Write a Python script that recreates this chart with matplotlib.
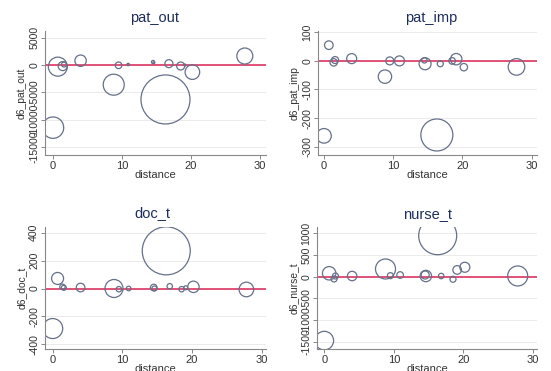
import numpy as np
import matplotlib.pyplot as plt

# distance of each unit (same in all four panels)
distance = [0.0, 0.7, 1.4, 1.6, 4.0, 8.8, 9.5, 10.9, 14.5, 14.6, 16.3, 16.8, 18.5, 19.1, 20.2, 27.8]

# dfbeta-like values and bubble weights per outcome
pat_out = [-11460, -300, -200, 100, 790, -3600, -50, 100, 550, 400, -6300, 250, -180, 0, -1300, 1650]
w_pat_out = [10.7, 9.5, 4.5, 2.5, 5.7, 10.5, 3.3, 1.2, 1.6, 1.0, 24.5, 4.0, 4.0, 1.0, 7.3, 8.0]

pat_imp = [-262, 55, -5, 3, 8, -55, 0, 0, 2, -10, -259, -10, 0, 6, -22, -21]
w_pat_imp = [7.3, 4.3, 3.7, 3.5, 5.0, 6.7, 4.0, 5.0, 2.7, 6.0, 16.0, 3.0, 3.3, 5.7, 3.7, 8.3]

doc_t = [-287, 72, 12, 5, 7, 0, -5, 0, 7, 0, 270, 16, -5, 5, 12, -7]
w_doc_t = [10.0, 6.0, 2.7, 2.5, 4.3, 9.0, 2.7, 2.3, 3.3, 2.5, 24.0, 2.7, 2.7, 2.0, 5.7, 7.3]

nurse_t = [-1475, 78, -53, 15, 15, 177, 23, 38, 38, 15, 945, 15, -60, 155, 217, 16]
w_nurse_t = [9.3, 6.7, 3.0, 3.0, 4.7, 10.0, 3.0, 3.3, 4.0, 5.7, 19.0, 2.7, 3.0, 4.3, 5.0, 10.0]

panels = [
    ("pat_out", pat_out, w_pat_out, [5000, 0, -5000, -10000, -15000]),
    ("pat_imp", pat_imp, w_pat_imp, [100, 0, -100, -200, -300]),
    ("doc_t", doc_t, w_doc_t, [400, 200, 0, -200, -400]),
    ("nurse_t", nurse_t, w_nurse_t, [1000, 500, 0, -500, -1000, -1500]),
]

W, H = 551, 371
# pixel layout: box (l, r, t, b), x-map (px of 0, px of 30), y-map ((px, val), (px, val)), title (x, y)
layout = [
    ((45, 266, 31, 155), (53, 260), ((37.7, 5000), (147, -15000)), (155, 18)),
    ((318, 537, 31, 154.5), (324, 531.7), ((32.3, 100), (146.7, -300)), (431, 18)),
    ((45, 266, 226.7, 348.5), (52.7, 261.7), ((232.7, 400), (344.3, -400)), (152, 213)),
    ((317, 537, 226.7, 349), (324.3, 533), ((233.3, 1000), (341.7, -1500)), (428, 215)),
]

def lims(lo_px, hi_px, p0, v0, p1, v1):
    k = (v1 - v0) / (p1 - p0)
    return v0 + (lo_px - p0) * k, v0 + (hi_px - p0) * k

navy = '#1c2d5c'
bub = '#65708a'
fig = plt.figure(figsize=(W / 100, H / 100), dpi=100)
fig.patch.set_facecolor('white')
plt.rcParams['font.family'] = ['Liberation Sans', 'DejaVu Sans']

for (name, vals, w, yt), (box, xm, ym, tpos) in zip(panels, layout):
    l, r, t, b = box
    ax = fig.add_axes([l / W, 1 - b / H, (r - l) / W, (b - t) / H])
    ax.set_xlim(*lims(l, r, xm[0], 0, xm[1], 30))
    (pa, va), (pb, vb) = ym
    y_top, y_bot = lims(t, b, pa, va, pb, vb)
    ax.set_ylim(y_bot, y_top)
    for v in yt:
        ax.axhline(v, color='#ebebeb', lw=0.7, zorder=0)
    ax.axhline(0, color='#dc3560', lw=1.2, zorder=1)
    s = (1.44 * np.array(w)) ** 2
    ax.scatter(distance, vals, s=s, facecolors='none', edgecolors=bub, linewidths=0.9, zorder=2)
    ax.set_xticks([0, 10, 20, 30])
    ax.set_yticks(yt)
    ax.set_yticklabels([str(v) for v in yt], rotation=90, va='center', fontsize=7.6, color='#333333')
    ax.tick_params(axis='x', labelsize=8, labelcolor='#333333', length=3, width=0.7, color='#888888', pad=1.5)
    ax.tick_params(axis='y', length=3, width=0.7, color='#888888', pad=1.2)
    for sp in ['top', 'right']:
        ax.spines[sp].set_visible(False)
    for sp in ['left', 'bottom']:
        ax.spines[sp].set_color('#888888')
        ax.spines[sp].set_linewidth(0.8)
    ax.set_xlabel('distance', fontsize=8, color='#333333')
    ax.set_ylabel('d6_' + name, fontsize=7.4, color='#333333')
    ax.xaxis.set_label_coords(((l + r) / 2) / W, 1 - (b + 15) / H, transform=fig.transFigure)
    ax.yaxis.set_label_coords((l - 18) / W, 1 - ((t + b) / 2) / H, transform=fig.transFigure)
    fig.text(tpos[0] / W, 1 - tpos[1] / H, name, ha='center', va='center', fontsize=10.5, color=navy)

fig.savefig('out.png', dpi=100)
